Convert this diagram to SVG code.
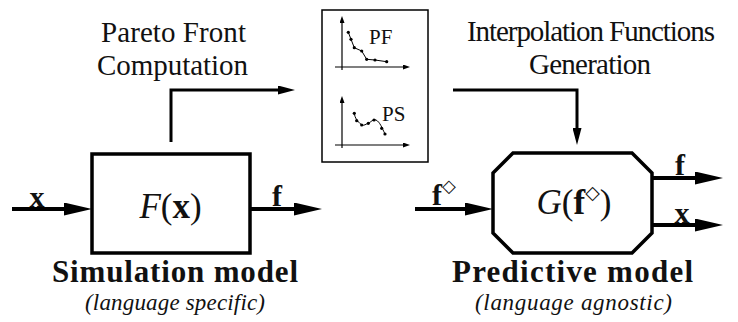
<svg xmlns="http://www.w3.org/2000/svg" width="738" height="322" viewBox="0 0 738 322">
<style>
.t{font-family:'Liberation Serif','DejaVu Serif','Times New Roman',serif;fill:#111}
.cap{font-size:29px;text-anchor:middle}
.bold{font-size:31px;font-weight:bold;text-anchor:middle}
.it{font-size:23px;font-style:italic;text-anchor:middle}
.lbl{font-size:30px;font-weight:bold}
.box{fill:#fff;stroke:#000;stroke-width:3.5}
.conn{fill:none;stroke:#000;stroke-width:4}
.thin{fill:none;stroke:#000;stroke-width:3}
.ax{fill:none;stroke:#000;stroke-width:1.2}
.crv{fill:none;stroke:#000;stroke-width:1}
.dia{font-family:'DejaVu Sans',sans-serif}
</style>
<defs>
<marker id="big" markerUnits="userSpaceOnUse" markerWidth="28" markerHeight="13" refX="8" refY="6.5" orient="auto">
<path d="M0,0 L28,6.5 L0,13 z" fill="#000"/>
</marker>
<marker id="small" markerUnits="userSpaceOnUse" markerWidth="17" markerHeight="9" refX="5" refY="4.5" orient="auto">
<path d="M0,0 L17,4.5 L0,9 z" fill="#000"/>
</marker>
<marker id="tiny" markerUnits="userSpaceOnUse" markerWidth="7" markerHeight="5" refX="1" refY="2.5" orient="auto">
<path d="M0,0 L7,2.5 L0,5 z" fill="#000"/>
</marker>
</defs>

<g id="labels-top">
<text class="t cap" x="173.5" y="42" textLength="145">Pareto Front</text>
<text class="t cap" x="172.5" y="75" textLength="151">Computation</text>
<text class="t cap" x="591" y="41" textLength="248">Interpolation Functions</text>
<text class="t cap" x="590" y="74" textLength="122">Generation</text>
</g>

<g id="simulation-model">
<rect class="box" x="92" y="154" width="158" height="99"/>
<text class="t" x="170.5" y="218" text-anchor="middle" font-size="35"><tspan font-style="italic">F</tspan><tspan>(</tspan><tspan font-weight="bold">x</tspan><tspan>)</tspan></text>
<text class="t bold" x="175" y="282" textLength="246">Simulation model</text>
<text class="t it" x="175" y="310" textLength="180">(language specific)</text>
</g>

<g id="pareto-box">
<rect x="322" y="10" width="106" height="152" fill="#fff" stroke="#000" stroke-width="1.5"/>
<path class="ax" d="M342,70 V22" marker-end="url(#tiny)"/>
<path class="ax" d="M335,67 H404" marker-end="url(#tiny)"/>
<polyline class="crv" points="348.3,32.3 351,39.3 354.3,47.7 361.7,51 366.7,59.3 375,60 386.7,61.7"/>
<g fill="#000">
<circle cx="348.3" cy="32.3" r="1.6"/><circle cx="351" cy="39.3" r="1.6"/><circle cx="354.3" cy="47.7" r="1.6"/><circle cx="361.7" cy="51" r="1.6"/><circle cx="366.7" cy="59.3" r="1.6"/><circle cx="375" cy="60" r="1.6"/><circle cx="386.7" cy="61.7" r="1.6"/>
</g>
<text class="t" x="369" y="44" font-size="21">PF</text>
<path class="ax" d="M342,148 V102" marker-end="url(#tiny)"/>
<path class="ax" d="M335,145 H404" marker-end="url(#tiny)"/>
<path class="crv" d="M354.3,113.3 C355,118 357,121 361.7,125 C364,126 366,124 368.3,123.3 C371,122 373,119 376,120 C380,122 382,128 385,134"/>
<g fill="#000">
<circle cx="354.3" cy="113.3" r="1.6"/><circle cx="356.7" cy="120.7" r="1.6"/><circle cx="361.7" cy="125" r="1.6"/><circle cx="368.3" cy="123.3" r="1.6"/><circle cx="374" cy="120" r="1.6"/><circle cx="381.7" cy="128.3" r="1.6"/><circle cx="385" cy="134" r="1.6"/>
</g>
<text class="t" x="382" y="121" font-size="21">PS</text>
</g>

<g id="predictive-model">
<polygon class="box" points="513,153 632,153 652,173 652,233 632,253 513,253 493,233 493,173"/>
<text class="t" x="574" y="214" text-anchor="middle" font-size="35"><tspan font-style="italic">G</tspan><tspan>(</tspan><tspan font-weight="bold">f</tspan><tspan class="dia" font-size="19" dy="-15">◇</tspan><tspan dy="15">)</tspan></text>
<text class="t bold" x="572.5" y="282" textLength="241">Predictive model</text>
<text class="t it" x="573.5" y="310" textLength="197">(language agnostic)</text>
</g>

<g id="connectors">
<line class="conn" x1="12" y1="209" x2="72" y2="209" marker-end="url(#big)"/>
<line class="conn" x1="250" y1="209" x2="302" y2="209" marker-end="url(#big)"/>
<path class="thin" d="M171,142 V90 H283" marker-end="url(#small)"/>
<path class="thin" d="M453,90 H577 V133" marker-end="url(#small)"/>
<line class="conn" x1="415" y1="209" x2="473" y2="209" marker-end="url(#big)"/>
<line class="conn" x1="652" y1="178" x2="703" y2="178" marker-end="url(#big)"/>
<line class="conn" x1="652" y1="225" x2="703" y2="225" marker-end="url(#big)"/>
<text class="t lbl" x="37" y="207" text-anchor="middle">x</text>
<text class="t lbl" x="277" y="206" text-anchor="middle">f</text>
<text class="t lbl" x="432" y="205">f<tspan class="dia" font-size="18" font-weight="normal" dy="-13">◇</tspan></text>
<text class="t lbl" x="680" y="175" text-anchor="middle">f</text>
<text class="t lbl" x="682" y="223" text-anchor="middle">x</text>
</g>
</svg>
